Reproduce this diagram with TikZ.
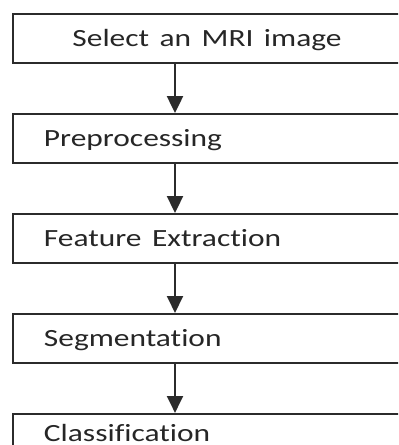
\documentclass[tikz,border=0pt]{standalone}
\usepackage{fontspec}
\setmainfont[Ligatures=NoCommon]{Carlito}
\usetikzlibrary{positioning,arrows.meta}
\definecolor{c1}{HTML}{2B2B2B}
\definecolor{c2}{HTML}{262626}
\newcommand{\stretchtxt}[1]{\scalebox{1.27}[1]{#1}}

\begin{document}
\begin{tikzpicture}[
  stage/.style={draw=c1, line width=1.4pt, text=c2, inner xsep=0.775cm, inner ysep=0pt,
    text width=8.15cm, minimum height=1.225cm, text height=0.5cm, text depth=0.075cm,
    font=\fontsize{17.6pt}{20pt}\selectfont, align=left},
  flow/.style={draw=c1, line width=1.4pt, -{Triangle[width=0.4cm,length=0.42cm]}},
  node distance=1.225cm
]
  \useasboundingbox (0,0) rectangle (9.95,-11.125);
  \clip (0,0) rectangle (9.95,-11.125);
  % Steps
  \node[stage, align=center, anchor=north west] (sel) at (0.3,-0.325) {\stretchtxt{Select an MRI image}};
  \node[stage, below=of sel] (pre) {\stretchtxt{Preprocessing}};
  \node[stage, below=of pre] (feat) {\stretchtxt{Feature Extraction}};
  \node[stage, below=of feat] (seg) {\stretchtxt{Segmentation}};
  \node[stage, below=of seg, text height=0.25cm] (cls) {\stretchtxt{Classification}};
  % Arrows
  \coordinate (spine) at (4.375,0);
  \foreach \a/\b in {sel/pre, pre/feat, feat/seg, seg/cls}{
    \draw[flow] (\a.south -| spine) -- (\b.north -| spine);
  }
\end{tikzpicture}
\end{document}
